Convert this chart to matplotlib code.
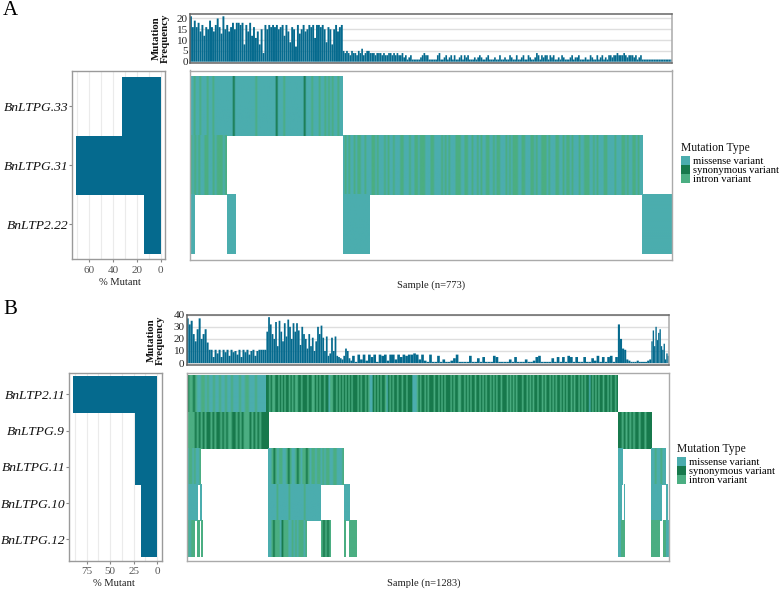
import matplotlib
matplotlib.use('Agg')
import matplotlib.pyplot as plt
from matplotlib.colors import to_rgb
from matplotlib.patches import Patch
import numpy as np

plt.rcParams['font.family'] = ['Liberation Serif', 'DejaVu Serif']

W, H = 780, 589

# ---------- panel A data ----------
genes_a = ['BnLTPG.33', 'BnLTPG.31', 'BnLTP2.22']
pct_a = [32, 71, 14]
ticks_a = [60, 40, 20, 0]

freq_spans_a = [(0, 245), (245, 450), (450, 773)]
freq_a_1 = [21, 16, 19, 16, 18, 14, 17, 12, 16, 15, 19, 16, 14, 17, 20, 16, 13, 21, 15, 17,
            14, 16, 18, 15, 18, 18, 17, 18, 8, 17, 14, 18, 12, 16, 11, 14, 8, 15, 4, 17,
            15, 17, 16, 17, 16, 17, 15, 16, 17, 12, 17, 14, 9, 16, 15, 7, 17, 13, 15, 17,
            14, 15, 17, 16, 17, 11, 17, 17, 16, 17, 15, 9, 16, 15, 8, 15, 17, 14, 16, 17]
freq_a_2 = [5, 4, 5, 4, 3, 5, 4, 4, 3, 5, 4, 6, 3, 4, 5, 5, 4, 4, 4, 3, 4, 4, 4, 3, 4, 3, 3, 4,
            4, 3, 4, 3, 4, 3, 3, 4, 2, 3, 1, 2, 3, 1, 1, 1, 1, 1, 2, 3, 4, 3, 3, 1, 1, 1, 1, 1,
            3, 4, 1, 1, 2, 3, 1, 2, 3, 1, 3, 1, 1, 2, 3, 1, 3, 2, 3, 1]
freq_a_3 = [1, 1, 2, 1, 2, 3, 2, 1, 1, 2, 3, 1, 1, 1, 2, 1, 1, 3, 1, 1, 2, 1, 1, 3, 2, 1, 1, 3, 1, 1,
            2, 3, 1, 1, 3, 2, 1, 1, 2, 4, 3, 1, 3, 2, 3, 3, 1, 3, 2, 3, 1, 1, 2, 1, 3, 2, 1, 1, 1, 2,
            3, 1, 2, 2, 3, 1, 1, 1, 2, 1, 1, 3, 2, 1, 1, 3, 1, 2, 3, 1, 2, 1, 3, 3, 2, 3, 3, 4, 3, 3,
            3, 4, 3, 2, 3, 3, 3, 2, 3, 1, 2, 3, 1, 1, 1, 1, 1, 1, 1, 1, 1, 1, 1, 1, 1, 1, 1, 1, 1, 1]
freq_a = [freq_a_1, freq_a_2, freq_a_3]

# gene row, start sample, end sample, stripes (m missense, s synonymous, i intron)
segments_a = [
    (0, 0, 245, 'mmimmimmmimmimmmmmmmmmmsmmmmmmmmmmmimmmmmmmmmmsmmmimmmmmmmmmmsmmmimmmimmimimimmimm'),
    (1, 0, 59, 'imimimmiimmimiiimi'),
    (1, 245, 725, 'mimimmimiimmimmmiimimmmimimmimmmiimmmimmiimiiimmmiimmmmimimimmmiiimmiimmimmimimmiimmimiimmm'
                  'imimiiimmiimmmiimimmiiimimmmiimmimiimimmmimmiiimmimimmmiimmmmimmmiimimmiimimm'),
    (2, 0, 8, 'mm'),
    (2, 59, 72, 'mmm'),
    (2, 245, 287, 'mmmmmmmmmmmmm'),
    (2, 725, 773, 'mmmmmmmmmmmmmmm'),
]

# ---------- panel B data ----------
genes_b = ['BnLTP2.11', 'BnLTPG.9', 'BnLTPG.11', 'BnLTPG.10', 'BnLTPG.12']
pct_b = [90, 24, 23, 17, 17]
ticks_b = [75, 50, 25, 0]

freq_spans_b = [(0, 212), (212, 440), (440, 1147), (1147, 1236), (1236, 1283)]
freq_b_1 = [37, 32, 35, 24, 18, 28, 37, 20, 24, 28, 17, 11, 11, 5, 11, 8, 11, 5, 11, 9,
            11, 6, 11, 9, 10, 7, 11, 5, 11, 9, 11, 7, 10, 11, 6, 10, 11, 11, 11, 11]
freq_b_2 = [26, 38, 32, 24, 20, 34, 14, 35, 26, 18, 33, 22, 36, 30, 20, 33, 26, 33, 27, 15,
            30, 24, 20, 12, 24, 14, 21, 10, 18, 30, 24, 31, 21, 10, 22, 6, 8, 21, 10, 22,
            6, 5, 4, 3, 6, 12, 10, 4, 2]
freq_b_3 = [6, 1, 7, 3, 7, 2, 7, 5, 7, 1, 7, 6, 7, 2, 7, 7, 3, 7, 5, 7, 6, 7, 7, 8, 7, 3, 7, 2, 1, 7,
            1, 1, 6, 1, 3, 1, 1, 2, 4, 7, 1, 1, 1, 1, 6, 1, 1, 4, 1, 5, 1, 1, 1, 6, 5, 1, 1, 1, 1, 3,
            1, 5, 1, 1, 1, 3, 1, 1, 2, 5, 6, 1, 1, 1, 1, 4, 1, 5, 1, 5, 1, 6, 5, 1, 5, 1, 1, 5, 1, 1,
            4, 2, 6, 1, 5, 1, 5, 6, 1, 5]
freq_b_4 = [32, 20, 12, 11, 3, 2, 1, 1, 1, 2, 1, 1, 1, 1, 2, 3]
freq_b_5 = [18, 27, 14, 30, 19, 25, 28, 14, 11, 16, 3, 8, 6]
freq_b = [freq_b_1, freq_b_2, freq_b_3, freq_b_4, freq_b_5]

segments_b = [
    (0, 0, 212, 'siisimmiimimmimmimmimmimmmimmiimmmimmmmm'),
    (0, 212, 1147, 'ssisiissisisissisisiississsissiisisississmiissisisisisisiss'
                   'sisissisimmsisisissimsisississississsmmmisissisisssissisisiss'
                   'sisissiissisisississisisissisisississsisisisisssissisisissis'
                   'sisissisisissisisissisissisisissmsisisississisissis'),
    (1, 0, 216, 'iiiisisisissisissisisiissisisiiisisisissss'),
    (1, 1147, 1236, 'ssisisisissississs'),
    (2, 0, 37, 'miimimmi'),
    (2, 217, 419, 'mmisimiimmisimmisimiisimiimiimimiimmiimmmi'),
    (2, 1147, 1160, 'mmm'),
    (2, 1236, 1275, 'mmimmimm'),
    (3, 0, 27, 'mmmmm'),
    (3, 36, 40, 'm'),
    (3, 217, 357, 'mmmmmimmmmmmimmmmmmmmimmmmmmmmm'),
    (3, 419, 433, 'mmm'),
    (3, 1147, 1157, 'mm'),
    (3, 1163, 1165, 'm'),
    (3, 1236, 1263, 'mmmmmm'),
    (3, 1275, 1278, 'm'),
    (4, 0, 21, 'imii'),
    (4, 27, 33, 'i'),
    (4, 38, 41, 'i'),
    (4, 217, 320, 'mmisiiimsiiimmimimiiimi'),
    (4, 357, 382, 'isisi'),
    (4, 419, 423, 'i'),
    (4, 433, 453, 'iiii'),
    (4, 1147, 1153, 'm'),
    (4, 1155, 1158, 'i'),
    (4, 1160, 1163, 'i'),
    (4, 1236, 1258, 'iiiii'),
    (4, 1266, 1272, 'i'),
    (4, 1276, 1283, 'm'),
]

type_colors = {'m': '#4BADAE', 's': '#17794C', 'i': '#4BAE82'}
type_names = ['missense variant', 'synonymous variant', 'intron variant']
bar_color = '#056A8E'

fig = plt.figure(figsize=(W / 100, H / 100), dpi=100)


def px_axes(x0, y0, x1, y1):
    # pixel box, y going down from the top of the image
    return fig.add_axes([x0 / W, 1 - y1 / H, (x1 - x0) / W, (y1 - y0) / H])


def px_text(x, y, s, **kw):
    fig.text(x / W, 1 - y / H, s, **kw)


def style_spines(ax, color='#9a9a9a', lw=1.0):
    for sp in ax.spines.values():
        sp.set_color(color)
        sp.set_linewidth(lw)


def draw_panel(genes, pct, ticks, grid_step, xlim, ylim_rows, freq, spans, segments, n,
               top_box, main_box, left_box, freq_ylim, freq_ticks):
    # mutation frequency on top
    ax = px_axes(*top_box)
    for (start, end), vals in zip(spans, freq):
        w = (end - start) / len(vals)
        bars = ax.bar(start + w * np.arange(len(vals)), vals, width=w, align='edge',
                      color=bar_color, linewidth=0)
        for b in bars:
            b.set_snap(False)
    ax.set_xlim(0, n)
    ax.set_ylim(*freq_ylim)
    ax.set_yticks(freq_ticks)
    ax.set_xticks([])
    ax.tick_params(axis='y', length=0, labelsize=8, pad=1.5, labelcolor='#222222')
    ax.grid(axis='y', color='#dedede', linewidth=1)
    ax.set_axisbelow(True)
    style_spines(ax, '#666666', 1.1)
    ax.spines['right'].set_color('#aaaaaa')

    # oncoprint stripes, smoothed along x like the blurred original
    ax = px_axes(*main_box)
    for row, start, end, stripes in segments:
        rgb = np.array([[to_rgb(type_colors[c]) for c in stripes]])
        ax.imshow(rgb, extent=(start, end, row + 0.5, row - 0.5), aspect='auto',
                  interpolation='bilinear')
    ax.set_xlim(0, n)
    ax.set_ylim(*ylim_rows)
    ax.set_xticks([])
    ax.set_yticks([])
    style_spines(ax, '#aaaaaa')

    # % mutant bars on the left
    ax = px_axes(*left_box)
    ax.barh(range(len(genes)), pct, height=1, color=bar_color, linewidth=0)
    ax.set_xlim(*xlim)
    ax.set_ylim(*ylim_rows)
    ax.set_xticks(ticks)
    ax.set_xticks(np.arange(0, xlim[0], grid_step), minor=True)
    ax.set_yticks(range(len(genes)))
    ax.set_yticklabels(genes, style='italic', fontsize=9.7, color='#111111')
    ax.tick_params(axis='x', which='major', length=2.5, color='#888888', labelsize=8,
                   labelcolor='#555555', pad=2)
    ax.tick_params(axis='x', which='minor', length=0)
    ax.tick_params(axis='y', length=2, color='#888888', pad=0.5)
    ax.grid(axis='x', which='both', color='#ebebeb', linewidth=0.8)
    ax.set_axisbelow(True)
    style_spines(ax)


draw_panel(genes_a, pct_a, ticks_a, 10, (74, -3.6), (2.59, -0.6), freq_a, freq_spans_a,
           segments_a, 773, (190, 13.5, 672, 63), (190, 70.5, 672, 259.5), (72.3, 70.7, 165, 259.3),
           (-0.6, 22.3), [0, 5, 10, 15, 20])
draw_panel(genes_b, pct_b, ticks_b, 12.5, (94.2, -5), (4.6, -0.6), freq_b, freq_spans_b,
           segments_b, 1283, (186.7, 314.5, 669, 365), (186.7, 372.5, 669, 561), (68.7, 372.7, 161.7, 561),
           (-1.6, 40.2), [0, 10, 20, 30, 40])

px_text(3, 15, 'A', fontsize=15, color='black')
px_text(3, 314, 'B', fontsize=15, color='black')

freq_kw = dict(rotation=90, fontsize=7.8, fontweight='bold', ha='center', va='center',
               linespacing=0.95, color='#111111')
px_text(161, 38, 'Mutation\nFrequency', **freq_kw)
px_text(156, 340, 'Mutation\nFrequency', **freq_kw)

label_kw = dict(fontsize=7.6, ha='center', va='center', color='#222222')
px_text(120, 282, '% Mutant', **label_kw)
px_text(431, 285, 'Sample (n=773)', **label_kw)
px_text(114, 583, '% Mutant', **label_kw)
px_text(424, 583, 'Sample (n=1283)', **label_kw)

handles = [Patch(color=type_colors[c], linewidth=0) for c in 'msi']
for x, y in [(681, 156), (677, 457)]:
    px_text(x, y - 8, 'Mutation Type', fontsize=8.4, ha='left', va='center', color='#111111')
    fig.legend(handles, type_names, loc='upper left',
               bbox_to_anchor=(x / W, 1 - y / H), bbox_transform=fig.transFigure,
               frameon=False, fontsize=7.7, labelspacing=-0.14,
               handlelength=0.85, handleheight=1.0, handletextpad=0.3, borderpad=0,
               borderaxespad=0)

fig.savefig('out.png', dpi=100)
